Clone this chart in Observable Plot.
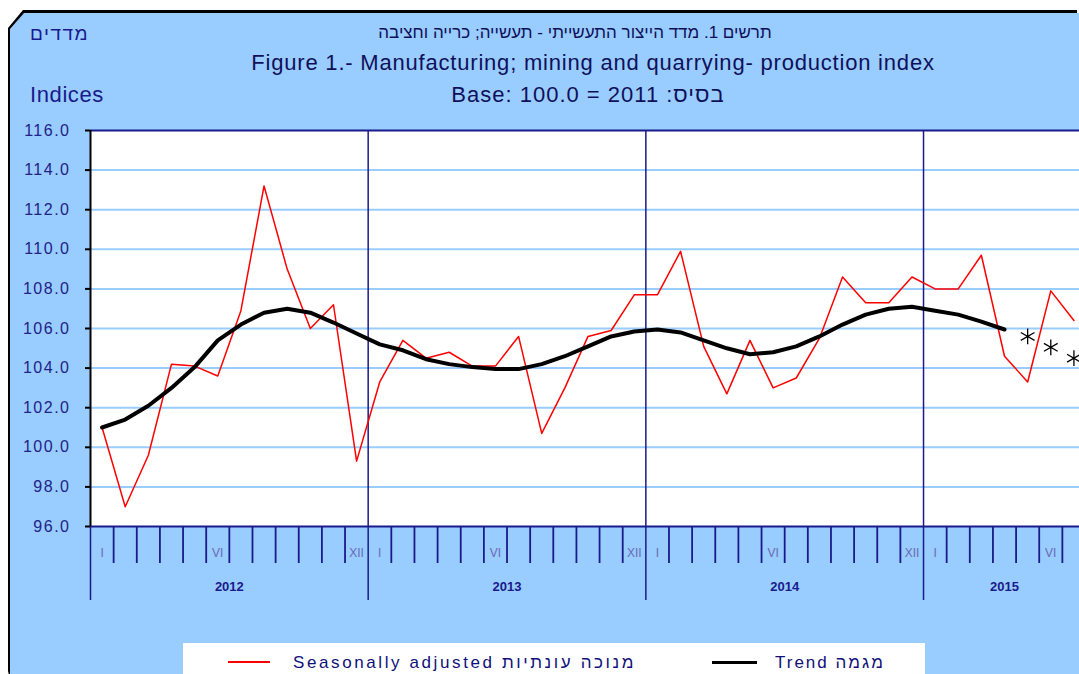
<!DOCTYPE html>
<html><head><meta charset="utf-8">
<script src="https://cdn.jsdelivr.net/npm/d3@7"></script>
<script src="https://cdn.jsdelivr.net/npm/@observablehq/plot@0.6"></script>
<style>
html,body{margin:0;padding:0;background:#fff;overflow:hidden;width:1079px;height:674px;}
#wrap{position:relative;width:1079px;height:674px;overflow:hidden;font-family:"Liberation Sans",Arial,sans-serif;}
#panelBorder{position:absolute;left:8px;top:10px;width:1069px;height:670px;background:#000;border-bottom-left-radius:10px;clip-path:polygon(15px 0,100% 0,100% 100%,0 100%,0 18px);}
#panel{position:absolute;left:10px;top:13px;width:1070px;height:670px;background:#99CCFF;border-bottom-left-radius:9px;clip-path:polygon(14px 0,100% 0,100% 100%,0 100%,0 16px);}
.t{position:absolute;white-space:nowrap;color:#10105a;line-height:1;}
.c{transform:translateX(-50%);}
#chart{position:absolute;left:0;top:120px;width:1090px;}
#chart svg{max-width:none !important;}
#legend{position:absolute;left:183px;top:643px;width:742px;height:40px;background:#fff;}
.sw{position:absolute;}
.lt{position:absolute;white-space:nowrap;font-size:17px;letter-spacing:2.6px;color:#10107a;line-height:1;}
</style>
</head><body>
<div id="wrap">
  <div id="panelBorder"></div>
  <div id="panel"></div>
  <div class="t" style="left:30px;top:24px;font-size:19px;letter-spacing:1.5px;color:#1a1a8c;direction:rtl;">מדדים</div>
  <div class="t c" style="left:575px;top:24px;font-size:17px;direction:rtl;">תרשים 1. מדד הייצור התעשייתי - תעשייה; כרייה וחציבה</div>
  <div class="t c" style="left:593px;top:52px;font-size:22px;letter-spacing:0.8px;">Figure 1.- Manufacturing; mining and quarrying- production index</div>
  <div class="t" style="left:30px;top:84px;font-size:22px;letter-spacing:0.6px;color:#1a1a8c;">Indices</div>
  <div class="t c" style="left:588px;top:84px;font-size:22px;letter-spacing:1px;">Base: 100.0 = 2011 :בסיס</div>
  <div id="chart"></div>
  <div id="legend">
    <div class="sw" style="left:45px;top:18px;width:42px;height:2px;background:#ff0000;"></div>
    <div class="lt" style="left:110px;top:11px;">Seasonally adjusted מנוכה עונתיות</div>
    <div class="sw" style="left:529px;top:18px;width:45px;height:3px;background:#000;"></div>
    <div class="lt" style="left:592px;top:11px;letter-spacing:2px;">Trend מגמה</div>
  </div>
</div>
<script>
// Monthly data, January 2012 - July 2015
const years = ["2012", "2013", "2014", "2015"];
const monthsShown = 43;
const seasonallyAdjusted = [
  101.0, 97.0, 99.6, 104.2, 104.1, 103.6, 106.9, 113.2, 109.0, 106.0, 107.2, 99.3,
  103.3, 105.4, 104.5, 104.8, 104.1, 104.1, 105.6, 100.7, 103.0, 105.6, 105.9, 107.7,
  107.7, 109.9, 105.1, 102.7, 105.4, 103.0, 103.5, 105.5, 108.6, 107.3, 107.3, 108.6,
  108.0, 108.0, 109.7, 104.6, 103.3, 107.9, 106.4
];
const trend = [
  101.0, 101.4, 102.1, 103.0, 104.05, 105.4, 106.2, 106.8, 107.0, 106.8, 106.3, 105.75,
  105.2, 104.9, 104.45, 104.2, 104.05, 103.95, 103.95, 104.2, 104.6, 105.1, 105.6, 105.85,
  105.95, 105.8, 105.4, 105.0, 104.7, 104.8, 105.1, 105.6, 106.2, 106.7, 107.0, 107.1,
  106.9, 106.7, 106.35, 105.95
];
const trendForecast = [105.6, 105.05, 104.5]; // May-Jul 2015 (asterisks)
const monthLabelNames = ["I", "VI", "XII"];
const monthLabelIndex = [0, 5, 11];
const yTicks = [96, 98, 100, 102, 104, 106, 108, 110, 112, 114, 116];

const navy = "#1a1a8c";
const saData = seasonallyAdjusted.map((v, k) => ({i: k + 0.5, v}));
const trendData = trend.map((v, k) => ({i: k + 0.5, v}));
const fcData = trendForecast.map((v, k) => ({i: trend.length + k + 0.5, v}));
const yearStarts = years.map((_, k) => k * 12);
const monthBounds = d3.range(1, monthsShown).filter(k => k % 12 !== 0);
const monthLabels = [];
years.forEach((yr, y) => monthLabelNames.forEach((name, j) => {
  const idx = y * 12 + monthLabelIndex[j];
  if (idx < monthsShown) monthLabels.push({i: idx + 0.5, label: name});
}));
const yearLabels = years.map((yr, y) => {
  const n = Math.min(12, monthsShown - y * 12);
  return {i: y * 12 + n / 2, label: yr};
});

const plot = Plot.plot({
  width: 1090, height: 486,
  marginLeft: 90, marginRight: 5, marginTop: 10, marginBottom: 80,
  x: {domain: [0, monthsShown], axis: null},
  y: {domain: [96, 116], axis: null},
  style: {background: "transparent", fontFamily: "Liberation Sans, Arial, sans-serif", overflow: "visible", maxWidth: "none"},
  marks: [
    Plot.frame({fill: "white", stroke: null}),
    Plot.ruleY(yTicks.slice(1, -1), {stroke: "#99CCFF", strokeWidth: 2}),
    Plot.ruleX(yearStarts.slice(1), {stroke: navy, strokeWidth: 1.5}),
    Plot.ruleY([116], {stroke: navy, strokeWidth: 2}),
    Plot.axisX({ticks: monthBounds, tickSize: 37, tickFormat: () => "", label: null, stroke: navy, strokeWidth: 1.8}),
    Plot.axisX({ticks: yearStarts, tickSize: 74, tickFormat: () => "", label: null, stroke: navy, strokeWidth: 1.5}),
    Plot.ruleY([96], {stroke: navy, strokeWidth: 2}),
    Plot.ruleX([0], {stroke: "black", strokeWidth: 2}),
    Plot.axisY({ticks: yTicks, tickSize: 5, tickPadding: 15, label: null, tickFormat: d => d.toFixed(1), fontSize: 16, fill: "#22228a", stroke: "black", strokeWidth: 2}),
    Plot.line(saData, {x: "i", y: "v", stroke: "#ff0000", strokeWidth: 1.5}),
    Plot.line(trendData, {x: "i", y: "v", stroke: "black", strokeWidth: 4}),
    Plot.dot(fcData, {x: "i", y: "v", symbol: "asterisk", r: 7.5, stroke: "black", strokeWidth: 1.3}),
    Plot.text(monthLabels, {x: "i", text: "label", frameAnchor: "bottom", dy: 30, fontSize: 12, fill: "#6a6ab4"}),
    Plot.text(yearLabels, {x: "i", text: "label", frameAnchor: "bottom", dy: 64, fontSize: 13, fontWeight: "bold", fill: navy})
  ]
});
document.getElementById("chart").appendChild(plot);
d3.select(plot).selectAll('g[aria-label="y-axis tick label"] text').style("letter-spacing", "1.5px");
</script>
</body></html>
